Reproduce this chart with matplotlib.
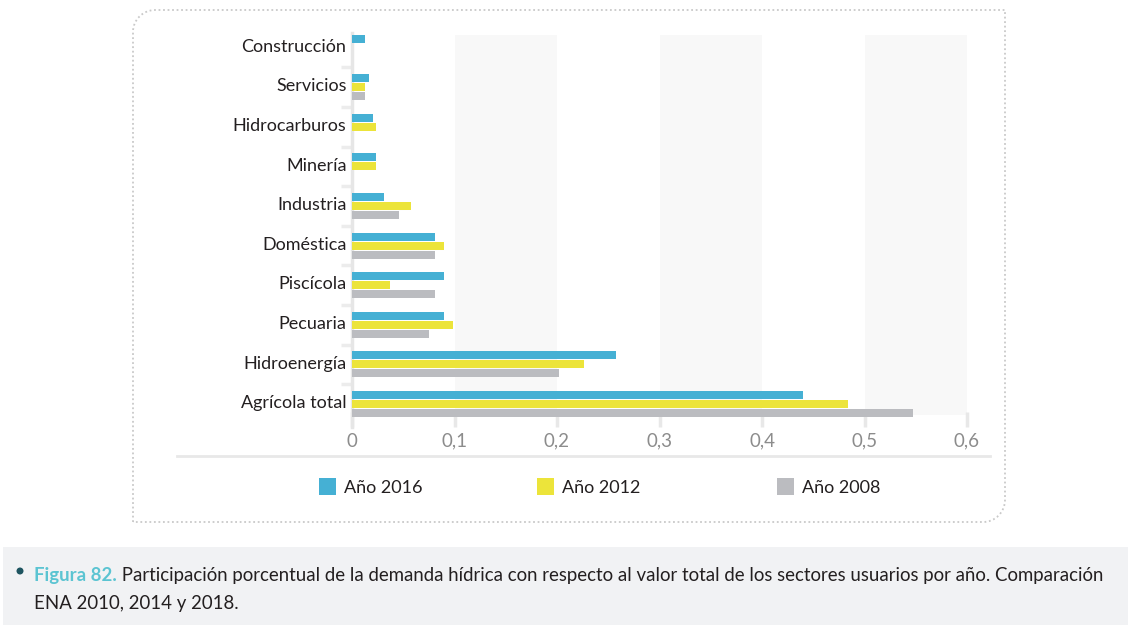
import matplotlib
matplotlib.use("Agg")
import matplotlib.pyplot as plt
import numpy as np
from matplotlib.patches import Rectangle, Ellipse, PathPatch
from matplotlib.path import Path
from matplotlib.lines import Line2D

# ---------------- data ----------------
categories = ["Construcción", "Servicios", "Hidrocarburos", "Minería", "Industria",
              "Doméstica", "Piscícola", "Pecuaria", "Hidroenergía", "Agrícola total"]
v2016 = [0.013, 0.017, 0.020, 0.023, 0.031, 0.081, 0.090, 0.090, 0.258, 0.440]
v2012 = [0.000, 0.013, 0.023, 0.023, 0.058, 0.090, 0.037, 0.099, 0.226, 0.484]
v2008 = [0.000, 0.013, 0.000, 0.000, 0.046, 0.081, 0.081, 0.075, 0.202, 0.547]
series_labels = ["Año 2016", "Año 2012", "Año 2008"]
xticks = [0, 0.1, 0.2, 0.3, 0.4, 0.5, 0.6]
xtick_labels = ["0", "0,1", "0,2", "0,3", "0,4", "0,5", "0,6"]
caption_bold = "Figura 82."
caption_line1 = " Participación porcentual de la demanda hídrica con respecto al valor total de los sectores usuarios por año. Comparación"
caption_line2 = "ENA 2010, 2014 y 2018."

colors = ["#45b0d4", "#ece43a", "#bbbcc0"]
FONT = ["Lato", "DejaVu Sans"]
plt.rcParams['font.family'] = FONT

W, H = 1134, 642
fig = plt.figure(figsize=(W / 100, H / 100), dpi=100)
fig.patch.set_facecolor("white")

def fx(px):
    return px / W

def fy(py):
    return 1 - py / H

# axes placement (pixels)
ax_left, ax_right, ax_top, ax_bottom = 352, 967, 33, 427
ax = fig.add_axes([fx(ax_left), fy(ax_bottom), (ax_right - ax_left) / W, (ax_bottom - ax_top) / H])
ax.set_facecolor("none")

n = len(categories)
ypos = np.arange(n)[::-1].astype(float)
off = 0.227
bh = 0.2
series = [v2016, v2012, v2008]
offsets = [off, 0.0, -off]
handles = []
for vals, o, c, lab in zip(series, offsets, colors, series_labels):
    h = ax.barh(ypos + o, vals, height=bh, color=c, label=lab, zorder=3)
    handles.append(h)

ax.set_xlim(0, 0.6)
ax.set_ylim(-0.581, 9.369)

# alternate bands
for a, b in [(0.1, 0.2), (0.3, 0.4), (0.5, 0.6)]:
    ax.axvspan(a, b, ymin=0.030, ymax=0.995, color="#f8f8f8", zorder=0, lw=0)

ax.set_xticks(xticks)
ax.set_xticklabels(xtick_labels)
ax.tick_params(axis="x", direction="in", length=11, width=2.5, color="#e8e8e8",
               labelsize=13.5, labelcolor="#8c8c8c", pad=4)
ax.set_yticks(ypos + 0.06)
ax.set_yticklabels(categories)
ax.tick_params(axis="y", which="major", length=0, pad=4, labelsize=13, labelcolor="#231f20")
ax.set_yticks(np.arange(n - 1) + 0.5, minor=True)
ax.tick_params(axis="y", which="minor", length=8, width=2.5, color="#ececec", direction="out")

for s in ["top", "right", "bottom"]:
    ax.spines[s].set_visible(False)
ax.spines["left"].set_color("#e6e6e6")
ax.spines["left"].set_linewidth(2.5)
ax.spines["left"].set_zorder(2)

# bottom separator line
fig.add_artist(Line2D([fx(177), fx(990)], [fy(456), fy(456)], color="#e8e8e8", lw=2))

# legend: one entry per series, placed individually
leg_x = [319, 537, 777]
for hnd, lab, lx in zip(handles, series_labels, leg_x):
    lg = fig.legend(handles=[hnd], labels=[lab], loc="center left",
                    bbox_to_anchor=(fx(lx), fy(487)), frameon=False,
                    fontsize=13, handlelength=0.95, handleheight=1.0, handletextpad=0.45,
                    borderpad=0, borderaxespad=0, labelcolor="#231f20")

# dotted panel border (rounded top-left and bottom-right corners)
x0, x1, y0, y1, r = 133, 1005, 10, 522, 22
k = 0.5523 * r
verts = [
    (x0, y1),
    (x0, y0 + r),
    (x0, y0 + r - k), (x0 + r - k, y0), (x0 + r, y0),
    (x1, y0),
    (x1, y1 - r),
    (x1, y1 - r + k), (x1 - r + k, y1), (x1 - r, y1),
    (x0, y1),
]
codes = [Path.MOVETO, Path.LINETO, Path.CURVE4, Path.CURVE4, Path.CURVE4,
         Path.LINETO, Path.LINETO, Path.CURVE4, Path.CURVE4, Path.CURVE4, Path.LINETO]
verts_f = [(fx(a), fy(b)) for a, b in verts]
border = PathPatch(Path(verts_f, codes), transform=fig.transFigure, fill=False,
                   edgecolor="#c9c9c9", lw=1.3, linestyle=(0, (1, 1.5)))
fig.add_artist(border)

# caption box
fig.add_artist(Rectangle((fx(3), fy(625)), (1128 - 3) / W, (625 - 547) / H,
                         transform=fig.transFigure, facecolor="#f1f2f4", edgecolor="none"))
fig.add_artist(Ellipse((fx(20), fy(571)), 7 / W, 7 / H, transform=fig.transFigure,
                       facecolor="#1e5460", edgecolor="none"))
CAP = 13.4
t1 = fig.text(fx(34), fy(581), caption_bold, fontsize=CAP, fontweight="bold",
              color="#5bc4d2", va="baseline", ha="left")
fig.canvas.draw()
bb = t1.get_window_extent(fig.canvas.get_renderer())
fig.text(bb.x1 / fig.bbox.width, fy(581), caption_line1, fontsize=CAP, color="#231f20",
         va="baseline", ha="left")
fig.text(fx(34), fy(609), caption_line2, fontsize=CAP, color="#231f20",
         va="baseline", ha="left")

fig.savefig("out.png", dpi=100)
